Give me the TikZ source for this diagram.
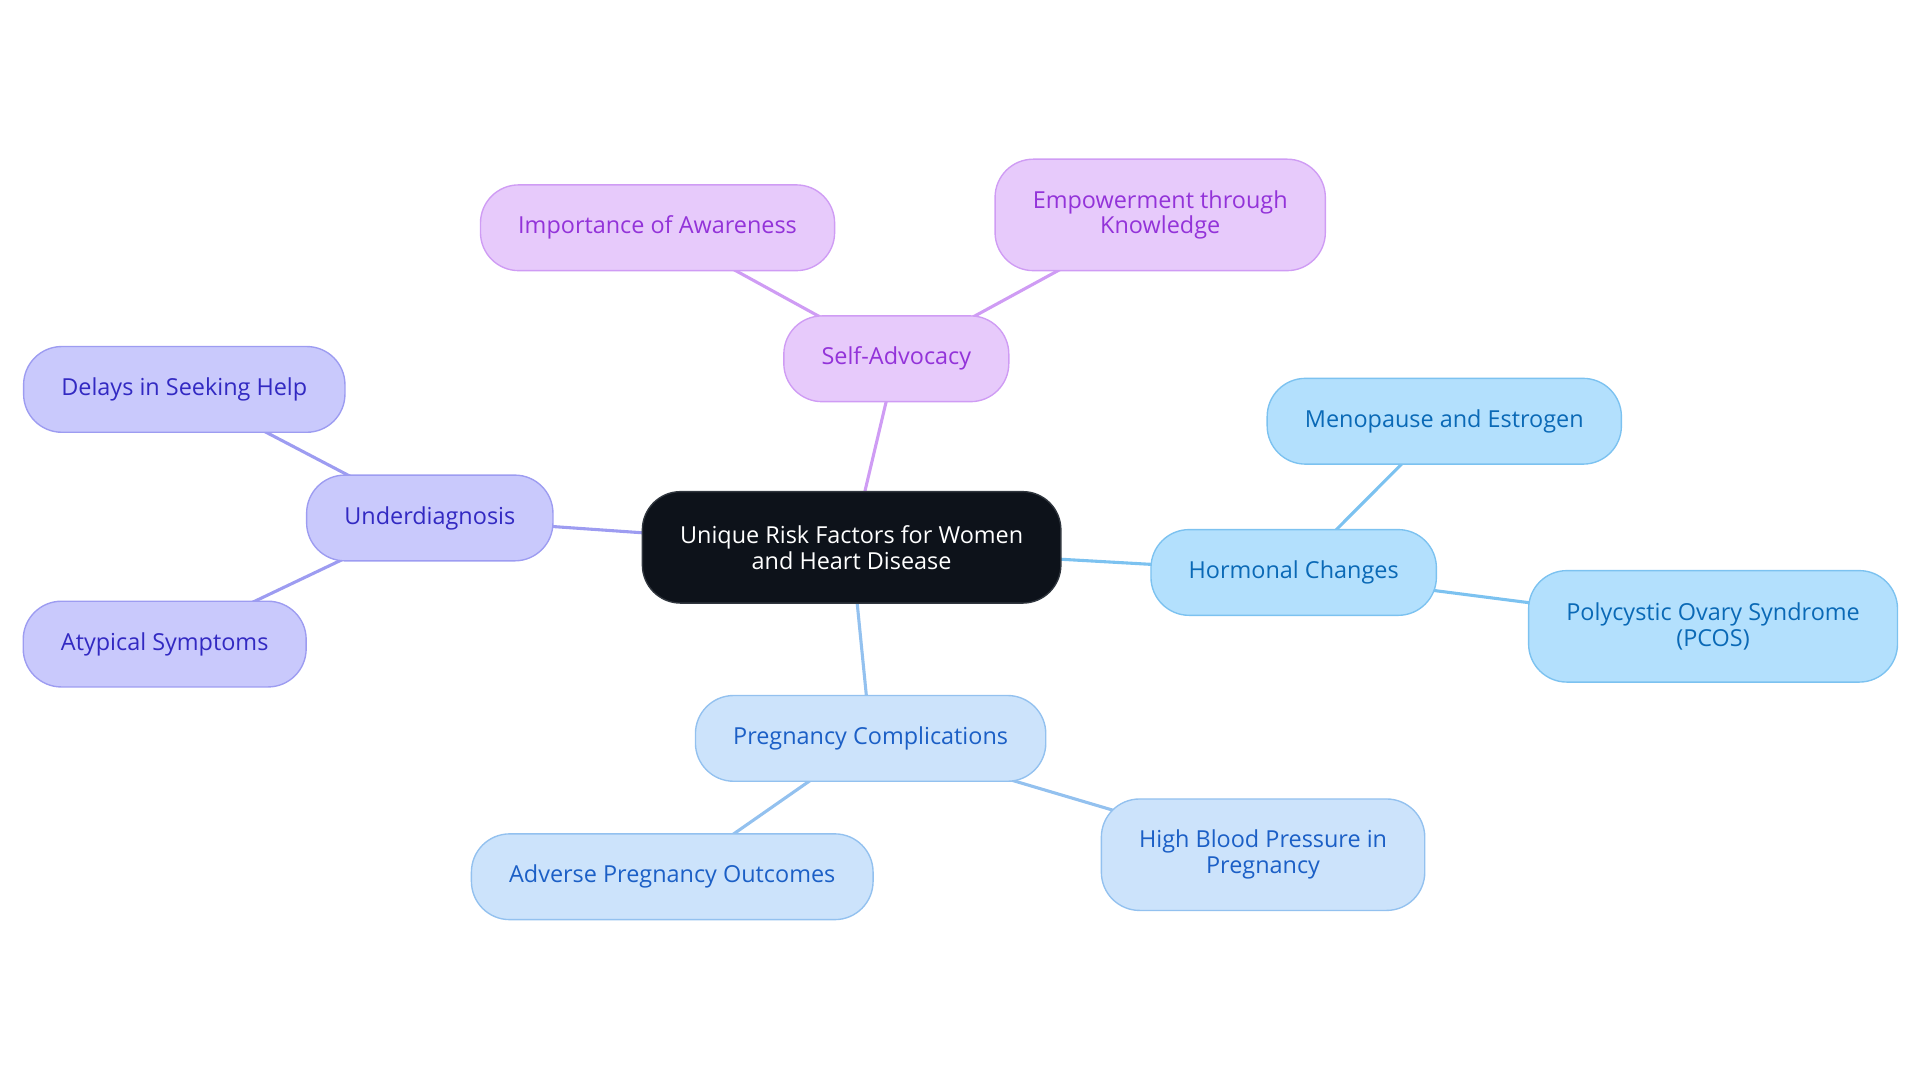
\documentclass[tikz,border=0pt]{standalone}
\usepackage{fontspec}
\setmainfont{Open Sans}
\usetikzlibrary{backgrounds}

\definecolor{rootfill}{HTML}{0D121A}
\definecolor{rootline}{HTML}{30363E}
\definecolor{advfill}{HTML}{E7CAFB}
\definecolor{advline}{HTML}{CF9CF4}
\definecolor{advtext}{HTML}{9333D9}
\definecolor{diagfill}{HTML}{C9C9FC}
\definecolor{diagline}{HTML}{9D9CF1}
\definecolor{diagtext}{HTML}{3229C2}
\definecolor{hormfill}{HTML}{B3E0FD}
\definecolor{hormline}{HTML}{7CC2F0}
\definecolor{hormtext}{HTML}{0A69B6}
\definecolor{pregfill}{HTML}{CCE3FB}
\definecolor{pregline}{HTML}{93C1EF}
\definecolor{pregtext}{HTML}{1B5FC6}

\begin{document}
\begin{tikzpicture}[x=0.025cm,y=-0.025cm,
    box/.style={draw, rounded corners=0.78cm, line width=0.8pt, inner xsep=0.77cm, inner ysep=0pt,
      minimum height=1.75cm, align=center, font=\fontsize{13.6}{15}\selectfont},
    tall/.style={minimum height=2.275cm},
    rootbox/.style={box, fill=rootfill, draw=rootline, text=white},
    advbox/.style={box, fill=advfill, draw=advline, text=advtext},
    diagbox/.style={box, fill=diagfill, draw=diagline, text=diagtext},
    hormbox/.style={box, fill=hormfill, draw=hormline, text=hormtext},
    pregbox/.style={box, fill=pregfill, draw=pregline, text=pregtext},
    link/.style={line width=1.8pt}]

    \useasboundingbox (0,0) rectangle (1568,884);

    % root
    \node[rootbox, tall] (risk) at (695.5,447) {Unique Risk Factors for Women\\and Heart Disease};

    % self-advocacy branch
    \node[advbox] (adv) at (732,293) {Self-Advocacy};
    \node[advbox] (aware) at (537,186) {Importance of Awareness};
    \node[advbox, tall] (know) at (947.5,175.5) {Empowerment through\\Knowledge};

    % underdiagnosis branch
    \node[diagbox] (diag) at (351,423) {Underdiagnosis};
    \node[diagbox] (delay) at (150.5,318) {Delays in Seeking Help};
    \node[diagbox] (atyp) at (134.5,526) {Atypical Symptoms};

    % hormonal branch
    \node[hormbox] (horm) at (1056.5,467.5) {Hormonal Changes};
    \node[hormbox] (meno) at (1179.5,344) {Menopause and Estrogen};
    \node[hormbox, tall] (pcos) at (1399,511.5) {Polycystic Ovary Syndrome\\(PCOS)};

    % pregnancy branch
    \node[pregbox] (preg) at (711,603) {Pregnancy Complications};
    \node[pregbox] (outc) at (549,716) {Adverse Pregnancy Outcomes};
    \node[pregbox, tall] (bp) at (1031.5,698) {High Blood Pressure in\\Pregnancy};

    \begin{scope}[on background layer]
        \draw[link, advline] (risk.center) -- (adv.center) (adv.center) -- (aware.center) (adv.center) -- (know.center);
        \draw[link, diagline] (risk.center) -- (diag.center) (diag.center) -- (delay.center) (diag.center) -- (atyp.center);
        \draw[link, hormline] (risk.center) -- (horm.center) (horm.center) -- (meno.center) (horm.center) -- (pcos.center);
        \draw[link, pregline] (risk.center) -- (preg.center) (preg.center) -- (outc.center) (preg.center) -- (bp.center);
    \end{scope}

\end{tikzpicture}
\end{document}
